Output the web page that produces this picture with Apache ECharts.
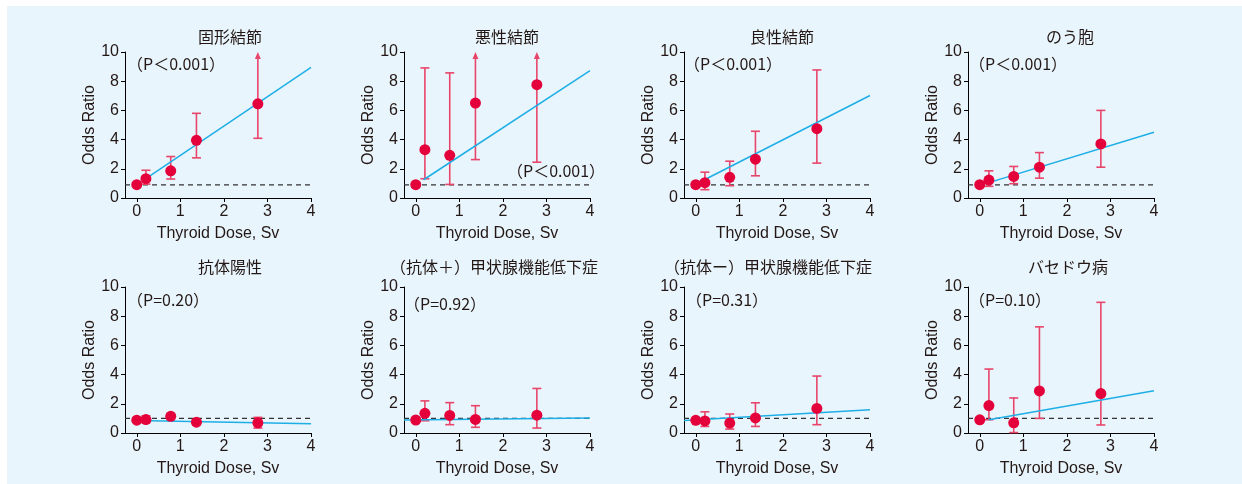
<!DOCTYPE html>
<html>
<head>
<meta charset="utf-8">
<script src="https://cdn.jsdelivr.net/npm/echarts@6/dist/echarts.min.js"></script>
<style>
  html, body { margin: 0; padding: 0; background: #fff; }
  #chart { width: 1242px; height: 484px; }
</style>
</head>
<body>
<div id="chart"></div>
<script>
  // 甲状腺被曝線量とオッズ比（8パネル）
  const titles = ['固形結節', '悪性結節', '良性結節', 'のう胞',
    '抗体陽性', '（抗体＋）甲状腺機能低下症', '（抗体ー）甲状腺機能低下症', 'バセドウ病'];
  const pTexts = ['（P＜0.001）', '（P＜0.001）', '（P＜0.001）', '（P＜0.001）',
    '（P=0.20）', '（P=0.92）', '（P=0.31）', '（P=0.10）'];

  // 線量カテゴリ (Sv)
  const doses = [0, 0.21, 0.78, 1.37, 2.78];

  // オッズ比
  const orValues = [
    [0.91, 1.32, 1.86, 3.95, 6.45],
    [0.91, 3.31, 2.92, 6.50, 7.76],
    [0.91, 1.05, 1.42, 2.66, 4.75],
    [0.91, 1.23, 1.48, 2.11, 3.70],
    [0.88, 0.92, 1.14, 0.74, 0.70],
    [0.89, 1.35, 1.20, 0.93, 1.22],
    [0.87, 0.83, 0.68, 1.03, 1.68],
    [0.90, 1.88, 0.70, 2.88, 2.70]
  ];
  // 95%信頼区間 下限
  const ciLow = [
    [null, 0.95, 1.30, 2.75, 4.09],
    [null, 1.32, 0.93, 2.63, 2.45],
    [null, 0.57, 0.84, 1.52, 2.39],
    [null, 0.80, 0.98, 1.36, 2.11],
    [null, 0.70, 0.95, 0.55, 0.34],
    [null, 0.84, 0.57, 0.39, 0.34],
    [null, 0.45, 0.27, 0.45, 0.57],
    [null, 0.91, 0.03, 1.00, 0.55]
  ];
  // 95%信頼区間 上限（10 = 軸外、矢印）
  const ciHigh = [
    [null, 1.90, 2.84, 5.80, 10],
    [null, 8.91, 8.57, 10, 10],
    [null, 1.77, 2.52, 4.57, 8.77],
    [null, 1.86, 2.16, 3.11, 6.00],
    [null, 1.18, 1.33, 0.90, 1.07],
    [null, 2.20, 2.08, 1.87, 3.05],
    [null, 1.45, 1.30, 2.07, 3.90],
    [null, 4.38, 2.40, 7.27, 8.95]
  ];
  const ciArrow = [
    [0, 0, 0, 0, 1],
    [0, 0, 0, 1, 1],
    [0, 0, 0, 0, 0],
    [0, 0, 0, 0, 0],
    [0, 0, 0, 0, 0],
    [0, 0, 0, 0, 0],
    [0, 0, 0, 0, 0],
    [0, 0, 0, 0, 0]
  ];

  // 回帰直線（始点x, 始点y, x=4でのy）
  const fitX0 = [0.15, 0.18, 0.2, 0.17, 0, -0.27, -0.27, 0.21];
  const fitY0 = [1.20, 1.25, 1.25, 1.02, 0.86, 0.89, 0.86, 0.91];
  const fitY1 = [8.95, 8.73, 7.02, 4.50, 0.64, 1.02, 1.59, 2.90];

  // 基準線 (OR=1)
  const refLevel = [0.9, 0.9, 0.9, 0.9, 1, 1, 1, 1];

  const xTicks = [0, 1, 2, 3, 4];
  const xMin = -0.27;

  const FONT = "'Liberation Sans', 'Noto Sans CJK JP', sans-serif";
  const CJK = "'Noto Sans CJK JP', 'Liberation Sans', sans-serif";
  const TXT = '#231815';
  const RED = '#e4003a';
  const BAR = '#e8456a';

  const lefts = [125, 404, 684, 968, 125, 404, 684, 968];
  const tops = [52, 52, 52, 52, 287, 287, 287, 287];
  const titleX = [225, 502, 777, 1065, 225, 489, 763, 1063];
  const titleY = [24, 24, 24, 24, 254, 254, 254, 254];
  const pX = [127, 507, 684, 969, 127, 404, 686, 969];
  const pY = [67, 174, 67, 67, 303, 307, 303, 303];

  let myChart = echarts.init(document.getElementById('chart'));

  let grid = [], xAxis = [], yAxis = [], title = [], series = [], graphic = [];

  graphic.push({
    type: 'rect', z: -10, silent: true,
    shape: { x: 7, y: 6, width: 1235, height: 478 },
    style: { fill: '#e9f5fd' }
  });

  for (let i = 0; i < 8; i++) {
    grid.push({ left: lefts[i], top: tops[i], width: 186, height: 146 });

    xAxis.push({
      type: 'value', gridIndex: i, min: xMin, max: 4,
      name: 'Thyroid Dose, Sv', nameLocation: 'middle', nameGap: 28,
      nameTextStyle: { fontSize: 16, color: TXT, fontFamily: FONT },
      axisLine: { show: true, onZero: false, lineStyle: { color: '#000', width: 1 } },
      axisTick: { show: true, length: 4, customValues: xTicks, lineStyle: { color: '#000' } },
      axisLabel: { customValues: xTicks, fontSize: 16, color: TXT, fontFamily: FONT, margin: 6 },
      splitLine: { show: false }
    });

    yAxis.push({
      type: 'value', gridIndex: i, min: 0, max: 10, interval: 2,
      name: 'Odds Ratio', nameLocation: 'middle', nameGap: 27, nameRotate: 90,
      nameTextStyle: { fontSize: 16, color: TXT, fontFamily: FONT },
      axisLine: { show: true, onZero: false, lineStyle: { color: '#000', width: 1 } },
      axisTick: { show: true, length: 4, lineStyle: { color: '#000' } },
      axisLabel: { fontSize: 16, color: TXT, fontFamily: FONT, margin: 6 },
      splitLine: { show: false }
    });

    title.push({
      text: titles[i], left: titleX[i], top: titleY[i], textAlign: 'center',
      textStyle: { fontSize: 16, fontWeight: 'normal', color: TXT, fontFamily: CJK }
    });

    graphic.push({
      type: 'text', left: pX[i], top: pY[i] - 11,
      style: { text: pTexts[i], fill: TXT, font: '16px ' + CJK }
    });

    // 基準線
    series.push({
      type: 'line', xAxisIndex: i, yAxisIndex: i, symbol: 'none', silent: true,
      data: [[xMin, refLevel[i]], [4, refLevel[i]]],
      lineStyle: { color: '#333', width: 1.2, type: [5, 4] }, z: 1
    });

    // 信頼区間
    let ciData = [];
    doses.forEach((d, k) => {
      if (ciLow[i][k] != null) ciData.push([d, ciLow[i][k], ciHigh[i][k], ciArrow[i][k]]);
    });
    series.push({
      type: 'custom', xAxisIndex: i, yAxisIndex: i, silent: true, z: 2,
      encode: { x: 0, y: [1, 2] },
      data: ciData,
      renderItem: function (params, api) {
        let x = api.value(0), lo = api.value(1), hi = api.value(2), arrow = api.value(3);
        let pl = api.coord([x, lo]), ph = api.coord([x, hi]);
        let st = { stroke: BAR, lineWidth: 1.6 };
        let ch = [
          { type: 'line', shape: { x1: pl[0], y1: pl[1], x2: ph[0], y2: arrow ? ph[1] + 5 : ph[1] }, style: st },
          { type: 'line', shape: { x1: pl[0] - 4.5, y1: pl[1], x2: pl[0] + 4.5, y2: pl[1] }, style: st }
        ];
        if (arrow) {
          ch.push({ type: 'polygon', shape: { points: [[ph[0], ph[1]], [ph[0] - 3, ph[1] + 7], [ph[0] + 3, ph[1] + 7]] }, style: { fill: BAR } });
        } else {
          ch.push({ type: 'line', shape: { x1: ph[0] - 4.5, y1: ph[1], x2: ph[0] + 4.5, y2: ph[1] }, style: st });
        }
        return { type: 'group', children: ch };
      }
    });

    // 回帰直線
    series.push({
      type: 'line', xAxisIndex: i, yAxisIndex: i, symbol: 'none', silent: true, z: 3,
      data: [[fitX0[i], fitY0[i]], [4, fitY1[i]]],
      lineStyle: { color: '#1eaee6', width: 1.5 }
    });

    // オッズ比
    series.push({
      type: 'scatter', xAxisIndex: i, yAxisIndex: i, symbolSize: 11, z: 4,
      data: doses.map((d, k) => [d, orValues[i][k]]),
      itemStyle: { color: RED, opacity: 1 }
    });
  }

  let options = {
    backgroundColor: '#fff',
    animation: false,
    title: title,
    grid: grid,
    xAxis: xAxis,
    yAxis: yAxis,
    graphic: graphic,
    series: series
  };

  myChart.setOption(options);
</script>
</body>
</html>
